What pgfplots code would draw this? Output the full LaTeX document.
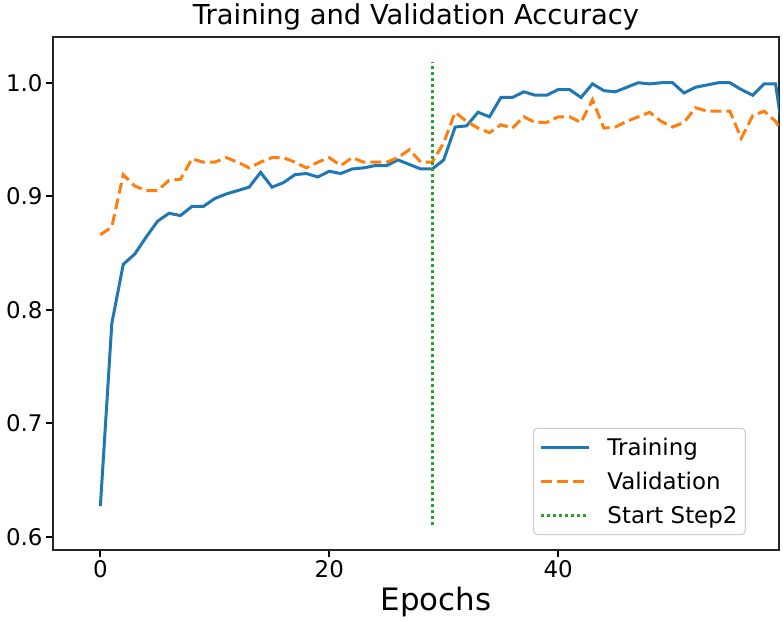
\documentclass[border=0pt]{standalone}
\usepackage{pgfplots}
\pgfplotsset{compat=1.18}
\usepackage{fontspec}
\setmainfont{DejaVu Sans}
\definecolor{tabblue}{HTML}{1F77B4}
\definecolor{taborange}{HTML}{FF7F0E}
\definecolor{tabgreen}{HTML}{2CA02C}
\begin{document}
\begin{tikzpicture}
\begin{axis}[
  scale only axis,
  width=726bp, height=513bp,
  xmin=-4.14, xmax=59.3,
  ymin=0.5883, ymax=1.0403,
  xtick={0,20,40},
  ytick={0.6,0.7,0.8,0.9,1.0},
  yticklabel style={/pgf/number format/.cd, fixed, fixed zerofill, precision=1},
  /pgf/number format/assume math mode=true,
  tick label style={font=\fontsize{23}{27}\selectfont},
  tick align=outside,
  major tick length=7bp,
  tick style={line width=1.8bp, black},
  xtick pos=bottom, ytick pos=left,
  axis line style={line width=1.8bp, black!85},
  title={Training and Validation Accuracy},
  title style={font=\fontsize{27.5}{31}\selectfont, at={(axis description cs:0.5,1)}, anchor=base, yshift=7bp},
  xlabel={Epochs},
  xlabel style={font=\fontsize{31}{36}\selectfont, at={(axis description cs:0.5275,0)}, anchor=base, yshift=-60bp},
  legend style={at={(axis description cs:0.9545,0.029)}, anchor=south east,
    font=\fontsize{23}{27}\selectfont, draw=black!20, line width=1bp, rounded corners=4bp,
    row sep=11bp, inner xsep=6bp, inner ysep=8bp},
  legend cell align=left,
  legend image code/.code={\draw[#1] (0bp,0bp) -- (48bp,0bp); \path (63bp,0bp);},
]
\addplot[tabblue, line width=3bp] coordinates {
(0,0.627) (1,0.788) (2,0.840) (3,0.849) (4,0.864) (5,0.878) (6,0.885) (7,0.883) (8,0.891) (9,0.891)
(10,0.898) (11,0.902) (12,0.905) (13,0.908) (14,0.921) (15,0.908) (16,0.912) (17,0.919) (18,0.920) (19,0.917)
(20,0.922) (21,0.920) (22,0.924) (23,0.925) (24,0.927) (25,0.927) (26,0.932) (27,0.928) (28,0.924) (29,0.924)
(30,0.932) (31,0.961) (32,0.962) (33,0.974) (34,0.970) (35,0.987) (36,0.987) (37,0.992) (38,0.989) (39,0.989)
(40,0.994) (41,0.994) (42,0.987) (43,0.999) (44,0.993) (45,0.992) (46,0.996) (47,1.000) (48,0.999) (49,1.000)
(50,1.000) (51,0.991) (52,0.996) (53,0.998) (54,1.000) (55,1.000) (56,0.994) (57,0.989) (58,0.999) (59,0.999)
(60,0.930)
};
\addlegendentry{Training}
\addplot[taborange, line width=3bp, dash pattern=on 11bp off 5bp] coordinates {
(0,0.866) (1,0.873) (2,0.919) (3,0.909) (4,0.905) (5,0.905) (6,0.914) (7,0.915) (8,0.933) (9,0.930)
(10,0.930) (11,0.934) (12,0.930) (13,0.925) (14,0.930) (15,0.934) (16,0.934) (17,0.930) (18,0.925) (19,0.930)
(20,0.934) (21,0.927) (22,0.934) (23,0.930) (24,0.930) (25,0.930) (26,0.934) (27,0.941) (28,0.930) (29,0.930)
(30,0.947) (31,0.974) (32,0.966) (33,0.960) (34,0.956) (35,0.963) (36,0.960) (37,0.970) (38,0.965) (39,0.965)
(40,0.970) (41,0.970) (42,0.965) (43,0.985) (44,0.960) (45,0.961) (46,0.966) (47,0.970) (48,0.974) (49,0.966)
(50,0.961) (51,0.965) (52,0.978) (53,0.975) (54,0.975) (55,0.975) (56,0.951) (57,0.971) (58,0.975) (59,0.966)
(60,0.950)
};
\addlegendentry{Validation}
\addplot[tabgreen, line width=3bp, dash pattern=on 3bp off 3bp] coordinates {(29,0.610) (29,1.018)};
\addlegendentry{Start Step2}
\end{axis}
\pgfresetboundingbox
\useasboundingbox ([xshift=-53bp,yshift=-71bp]current axis.south west) rectangle ([xshift=4bp,yshift=37bp]current axis.north east);
\end{tikzpicture}
\end{document}
